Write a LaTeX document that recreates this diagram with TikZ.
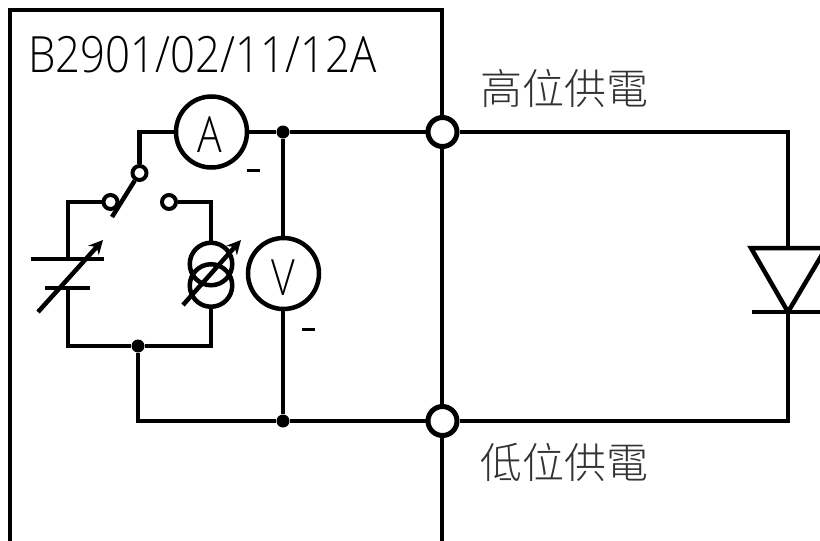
\documentclass[tikz,border=0pt]{standalone}
\usepackage{fontspec}
\setmainfont{Open Sans Light}
\newfontfamily\cjk{Noto Sans CJK TC Light}
\usetikzlibrary{arrows.meta}
\definecolor{labelgray}{RGB}{50,50,50}
\tikzset{
  wire/.style={line width=4.5pt,line join=miter,line cap=butt},
  meter/.style={circle,draw,line width=4.5pt,fill=white,minimum size=71pt,inner sep=0pt},
  term/.style={circle,draw,line width=5pt,fill=white,minimum size=29pt,inner sep=0pt},
  contact/.style={circle,draw,line width=4pt,fill=white,minimum size=14pt,inner sep=0pt},
  junction/.style={circle,fill=black,minimum size=13pt,inner sep=0pt},
  srcring/.style={circle,draw,line width=4.5pt,minimum size=42.5pt,inner sep=0pt},
  adjust/.style={line width=4.5pt,-{Stealth[length=14pt,width=14pt]}},
  metertext/.style={font=\fontsize{50pt}{50pt}\selectfont,xscale=.82,inner sep=0pt},
  cjklabel/.style={font=\cjk\fontsize{42pt}{42pt}\selectfont,text=labelgray,anchor=west,inner sep=0pt},
  title/.style={font=\fontsize{50pt}{50pt}\selectfont,xscale=.875,anchor=west,inner sep=0pt}
}
\begin{document}
\begin{tikzpicture}[x=1pt,y=-1pt]
\useasboundingbox (0,0) rectangle (820,541);
\clip (0,0) rectangle (820,541);
\coordinate (boxTL) at (10,10);
\coordinate (boxTR) at (442,10);
\coordinate (boxBL) at (10,545);
\coordinate (boxBR) at (442,545);
\draw[wire] (boxBL) -- (boxTL) -- (boxTR) -- (boxBR);
\coordinate (swCorner) at (139.5,132);
\coordinate (lCorner) at (68,202);
\coordinate (lPlate) at (68,259);
\coordinate (lPlate2) at (68,288);
\coordinate (blCorner) at (68,346);
\coordinate (brCorner) at (211,346);
\coordinate (rCorner) at (211,202);
\coordinate (gndCorner) at (138,421);
\coordinate (dTopCorner) at (788,132);
\coordinate (dBotCorner) at (788,421);
\coordinate (dTop) at (788,248);
\coordinate (dApex) at (788,312);
\coordinate (dLeft) at (751,248);
\coordinate (dRight) at (826,248);
\coordinate (dBarL) at (752,312);
\coordinate (dBarR) at (826,312);
\coordinate (bladeEnd) at (112,217);
\coordinate (p1L) at (31,259);
\coordinate (p1R) at (104,259);
\coordinate (p2L) at (45,288);
\coordinate (p2R) at (90,288);
\coordinate (a1s) at (38,312);
\coordinate (a1e) at (103,240);
\coordinate (a2s) at (183,305);
\coordinate (a2e) at (241,240);
\node[meter] (ammeter) at (211.5,132) {};
\node[meter] (voltmeter) at (283.5,273.5) {};
\node[term] (hi) at (442.5,132) {};
\node[term] (lo) at (442.5,421) {};
\node[junction] (jHi) at (283,132) {};
\node[junction] (jLo) at (283,421) {};
\node[junction] (jSrc) at (138,346) {};
\node[srcring] (ringA) at (211,264) {};
\node[srcring] (ringB) at (211,285.5) {};
\node[contact] (swC) at (139.5,173) {};
\node[contact] (swL) at (110.5,202) {};
\node[contact] (swR) at (169,202) {};
\draw[wire] (ammeter) -- (jHi) -- (hi) -- (dTopCorner) -- (dTop);
\draw[wire] (jHi) -- (jHi |- voltmeter.north);
\draw[wire] (jLo |- voltmeter.south) -- (jLo);
\draw[wire] (jSrc) -- (gndCorner) -- (jLo) -- (lo) -- (dBotCorner) -- (dApex);
\draw[wire] (ammeter) -- (swCorner) -- (swC);
\draw[wire] (lPlate) -- (lCorner) -- (swL);
\draw[wire] (lPlate2) -- (blCorner) -- (jSrc) -- (brCorner) -- (ringB);
\draw[wire] (ringA) -- (rCorner) -- (swR);
\draw[wire] (dLeft) -- (dRight) -- (dApex) -- cycle;
\draw[wire] (dBarL) -- (dBarR);
\draw[wire] (p1L) -- (p1R);
\draw[wire] (p2L) -- (p2R);
\draw[adjust] (a1s) -- (a1e);
\draw[adjust] (a2s) -- (a2e);
\draw[wire] (swC) -- (bladeEnd);
\node[title] (ttl) at (28,55) {B2901/02/11/12A};
\node[metertext] (tA) at (210,134.5) {A};
\node[metertext] (tV) at (283,277.5) {V};
\node[cjklabel] (tHi) at (480,89) {高位供電};
\node[cjklabel] (tLo) at (480,462) {低位供電};
\coordinate (m1a) at (247,170);
\coordinate (m1b) at (260,170);
\coordinate (m2a) at (302,329);
\coordinate (m2b) at (315,329);
\draw[line width=3pt] (m1a) -- (m1b);
\draw[line width=3pt] (m2a) -- (m2b);
\end{tikzpicture}
\end{document}
